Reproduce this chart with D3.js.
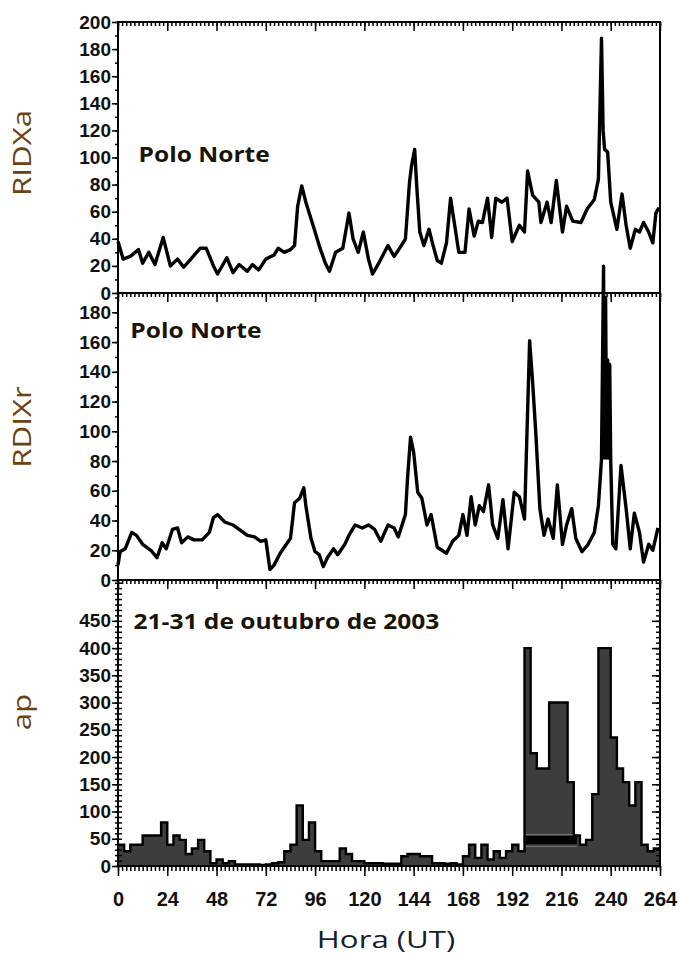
<!DOCTYPE html>
<html>
<head>
<meta charset="utf-8">
<script src="https://cdn.jsdelivr.net/npm/d3@7"></script>
<style>
  body { margin: 0; background: #fff; }
  .tick text { font-family: "Liberation Sans Narrow", "Arial Narrow", "Liberation Sans", sans-serif; font-weight: bold; font-size: 19px; fill: #111; }
  .xaxis .tick text { font-family: "Liberation Sans", Arial, sans-serif; font-size: 20px; }
  .tick line { stroke: #000; stroke-width: 1.5; }
</style>
</head>
<body>
<div id="chart"></div>
<script>
// RIDXa, Polo Norte: [hora, valor]
const ridxa = [
  [0,38],[2.5,25],[6,27],[10,32],[12,22],[15,30],[18,21],[22,41],[25.5,20],[29,25],[32,19],[36,26],
  [40,33],[43,33],[46.5,20],[48.5,14],[53,26],[56,15],[59,21],[63,16],[65.5,21],[68.5,17],[72,25],
  [76,28],[78,33],[81,30],[84,32],[86,35],[87.5,64],[89.5,79],[91.5,67],[95,50],[98,35],[101,22],
  [103,16],[106,30],[109.5,33],[112.5,59],[114.5,40],[117,30],[119.5,45],[122,25],[124,14],[127,22],
  [131.5,35],[134.5,27],[138,35],[140,40],[142,82],[143,94],[144.5,106],[145.5,79],[147,45],[149,35],
  [151.5,47],[153.5,35],[155.5,24],[157.5,22],[160,37],[162,70],[164,50],[166,30],[169,30],[171,62],
  [173.5,42],[175.5,53],[177.5,52],[180,70],[182,41],[184,70],[187,67],[189.5,70],[192,38],[195.5,50],
  [198,45],[199.5,90],[202,72],[205,67],[206,52],[209,67],[211,52],[213.5,83],[216.5,45],[218.5,64],
  [221.5,53],[225.5,52],[228.5,62],[232,69],[234,84],[235.5,188],[236.3,120],[237,106],[238.5,104],
  [240,67],[243,47],[245.5,73],[247.5,50],[249.5,33],[252,47],[254,45],[256,52],[258.5,45],
  [260.5,37],[262,59],[263.5,63]
];

// RDIXr, Polo Norte: [hora, valor]
const rdixr = [
  [0,10],[1,19],[3.5,21],[6.7,32],[9,30],[12,24],[16,20],[19,15],[21.5,25],[23.5,21],[26.5,34],[29,35],
  [31,25],[34,29],[37,27],[41,27],[44.5,32],[46.5,42],[48.5,44],[52,39],[56,37],[59,34],[63,30],
  [66.5,29],[69.5,26],[72,27],[74,7],[76,10],[79,18],[82,24],[84,28],[86,52],[88.5,55],[90.5,62],
  [91.5,50],[94,28],[96,19],[98,17],[100,9],[102,15],[105,21],[107,17],[110.5,24],[112.5,30],
  [115.5,37],[119,35],[122,37],[125,34],[128,26],[131.5,37],[134.5,35],[136.5,29],[140,44],[141,68],
  [142.5,96],[144,86],[146,59],[148,55],[150.5,37],[152.5,44],[155.5,22],[160,18],[163,26],[166,30],
  [168,44],[170,30],[172,56],[174,37],[176,50],[178,46],[180.5,64],[182.5,37],[185,28],[187.5,54],
  [190,21],[193,59],[195.5,56],[198,41],[200.5,161],[202,132],[203.5,99],[205.5,48],[207.5,30],
  [209.5,41],[212,28],[214,64],[216.5,24],[218.5,37],[221,48],[223,28],[226,19],[229,24],[232,32],
  [234,50],[235.5,81],[236.5,211],[237,82],[237.5,190],[238,82],[238.5,148],[239,82],[239.5,145],
  [240,80],[241,24],[242.5,21],[245,77],[247.5,48],[249.5,21],[251.5,45],[254,32],[256,12],
  [258.5,24],[260.5,20],[263,35]
];

// ap, valores de 3 em 3 horas a partir da hora 0
const apValues = [
  39,27,39,39,56,56,56,80,39,56,48,22,32,48,27,5,12,5,9,3,3,3,3,2,
  3,5,7,27,39,111,48,80,27,9,9,9,32,22,9,9,5,5,5,4,4,4,18,22,
  22,18,18,5,5,4,5,3,18,39,15,39,12,27,15,27,39,27,400,207,179,179,300,300,
  300,154,56,39,48,132,400,400,236,179,154,111,154,39,27,32
];
// faixa escura dentro da tempestade (horas e limites)
const bandHours = [198.5, 223.5];
const bandRange = [40, 55];

const hourTicks = d3.range(0, 265, 24);
const minorHourTicks = d3.range(0, 265, 2);

const W = 679, H = 955;
const x = d3.scaleLinear().domain([0, 264]).range([118, 660]);

const panels = [
  { top: 22, bottom: 293, max: 200, ticks: d3.range(0, 201, 20), minor: d3.range(0, 201, 10), label: "RIDXa", labelY: 153 },
  { top: 293, bottom: 580, max: 193, ticks: d3.range(0, 181, 20), minor: d3.range(0, 191, 10), label: "RDIXr", labelY: 427 },
  { top: 580, bottom: 866, max: 525, ticks: d3.range(0, 451, 50), minor: d3.range(0, 521, 10), label: "ap", labelY: 712 }
];
panels.forEach(p => { p.y = d3.scaleLinear().domain([0, p.max]).range([p.bottom, p.top]); });

const svg = d3.select("#chart").append("svg")
  .attr("width", W).attr("height", H)
  .style("background", "#fff");

// ap area (bottom panel), drawn first
const pA = panels[2];
const apData = apValues.map((v, i) => [i * 3, v]);
apData.push([264, apValues[apValues.length - 1]]);
const apArea = d3.area()
  .curve(d3.curveStepAfter)
  .x(d => x(d[0])).y0(pA.y(0)).y1(d => pA.y(d[1]));
const apLine = d3.line()
  .curve(d3.curveStepAfter)
  .x(d => x(d[0])).y(d => pA.y(d[1]));
svg.append("path").datum(apData)
  .attr("d", apArea).attr("fill", "#3d3d3d");
svg.append("rect")
  .attr("x", x(bandHours[0])).attr("width", x(bandHours[1]) - x(bandHours[0]))
  .attr("y", pA.y(bandRange[1])).attr("height", pA.y(bandRange[0]) - pA.y(bandRange[1]))
  .attr("fill", "#000");
[bandRange[0] - 4, bandRange[1] + 3].forEach(v => {
  svg.append("line")
    .attr("x1", x(bandHours[0])).attr("x2", x(bandHours[1]))
    .attr("y1", pA.y(v)).attr("y2", pA.y(v))
    .attr("stroke", "#7a7a7a").attr("stroke-width", 1);
});
svg.append("path").datum(apData)
  .attr("d", apLine).attr("fill", "none")
  .attr("stroke", "#000").attr("stroke-width", 2.4).attr("stroke-linejoin", "miter");

// frames
panels.forEach(p => {
  svg.append("rect")
    .attr("x", x(0)).attr("y", p.top)
    .attr("width", x(264) - x(0)).attr("height", p.bottom - p.top)
    .attr("fill", "none").attr("stroke", "#000").attr("stroke-width", 2);
});

// lines for RIDXa and RDIXr (RDIXr not clipped: its spike passes into the top panel)
const line0 = d3.line().x(d => x(d[0])).y(d => panels[0].y(d[1]));
const line1 = d3.line().x(d => x(d[0])).y(d => panels[1].y(d[1]));
svg.append("path").datum(ridxa).attr("d", line0)
  .attr("fill", "none").attr("stroke", "#000").attr("stroke-width", 3.4).attr("stroke-linejoin", "round");
svg.append("path").datum(rdixr).attr("d", line1)
  .attr("fill", "none").attr("stroke", "#000").attr("stroke-width", 3.4).attr("stroke-linejoin", "round");

// axes
panels.forEach((p, i) => {
  // left labels, outward ticks
  const gl = svg.append("g").attr("transform", `translate(${x(0)},0)`);
  gl.call(d3.axisLeft(p.y).tickValues(p.ticks).tickSize(6).tickPadding(1));
  gl.append("g").call(d3.axisLeft(p.y).tickValues(p.minor).tickSize(3).tickFormat(""));
  gl.selectAll(".domain").remove();

  // top edge ticks pointing down
  const gt = svg.append("g").attr("transform", `translate(0,${p.top})`);
  gt.call(d3.axisBottom(x).tickValues(minorHourTicks).tickSize(4).tickFormat(""));
  gt.append("g").call(d3.axisBottom(x).tickValues(hourTicks).tickSize(9).tickFormat(""));
  gt.selectAll(".domain").remove();

  if (i === 2) {
    const gi = svg.append("g").attr("transform", `translate(${x(0)},0)`);
    gi.call(d3.axisRight(p.y).tickValues(p.minor).tickSize(4).tickFormat(""));
    gi.selectAll(".domain").remove();
    const gr = svg.append("g").attr("transform", `translate(${x(264)},0)`);
    gr.call(d3.axisLeft(p.y).tickValues(p.minor).tickSize(4).tickFormat(""));
    gr.append("g").call(d3.axisLeft(p.y).tickValues(p.ticks).tickSize(8).tickFormat(""));
    gr.selectAll(".domain").remove();

    const gb = svg.append("g").attr("class", "xaxis").attr("transform", `translate(0,${p.bottom})`);
    gb.call(d3.axisBottom(x).tickValues(minorHourTicks).tickSize(5).tickFormat(""));
    gb.append("g").call(d3.axisBottom(x).tickValues(hourTicks).tickSize(10).tickPadding(16));
    gb.selectAll(".domain").remove();
  }

  svg.append("text")
    .attr("transform", `translate(31,${p.labelY}) rotate(-90) scale(1.25,1)`)
    .attr("text-anchor", "middle")
    .style("font-family", "'Open Sans', 'Noto Sans', sans-serif")
    .style("font-size", "25px")
    .style("fill", "#6b4210")
    .text(p.label);
});

// panel notes (baseline given in data units of each panel)
const notes = [
  { text: "Polo Norte", hx: 10, panel: 0, yv: 97 },
  { text: "Polo Norte", hx: 6, panel: 1, yv: 163 },
  { text: "21-31 de outubro de 2003", hx: 7.5, panel: 2, yv: 435 }
];
notes.forEach(n => {
  svg.append("text")
    .attr("transform", `translate(${x(n.hx)},${panels[n.panel].y(n.yv)}) scale(1.17,1)`)
    .style("font-family", "'Open Sans', 'Noto Sans', sans-serif")
    .style("font-weight", "bold")
    .style("font-size", "21px")
    .style("fill", "#1a1408")
    .text(n.text);
});

svg.append("text")
  .attr("transform", "translate(386,948) scale(1.3,1)")
  .attr("text-anchor", "middle")
  .style("font-family", "'Open Sans', 'Noto Sans', sans-serif")
  .style("font-size", "24px")
  .style("fill", "#14202a")
  .text("Hora (UT)");
</script>
</body>
</html>
